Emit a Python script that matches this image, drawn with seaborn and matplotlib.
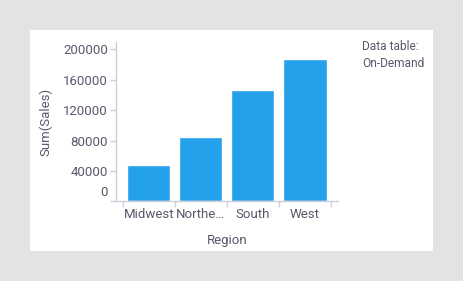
import matplotlib
matplotlib.use("Agg")
import matplotlib.pyplot as plt
import matplotlib.transforms as mtransforms
from matplotlib.patches import Rectangle
import seaborn as sns
import pandas as pd

regions = ["Midwest", "Northeast", "South", "West"]
region_labels = ["Midwest", "Northe…", "South", "West"]
sales = [47900, 84700, 146600, 187400]
y_ticks = [0, 40000, 80000, 120000, 160000, 200000]

sns.set_theme(style="white")
plt.rcParams['font.family'] = ['Roboto', 'DejaVu Sans']

W, H = 463, 281
fig = plt.figure(figsize=(W / 100, H / 100), dpi=100, facecolor="#e3e3e3")
fig.patches.append(Rectangle((30 / W, 1 - 251 / H), 403 / W, 221 / H,
                             transform=fig.transFigure, facecolor="white",
                             edgecolor="none", zorder=-10))

ax_left, ax_right = 115.7 / W, 337.7 / W
ax_top, ax_bottom = 1 - 42 / H, 1 - 201.4 / H
ax = fig.add_axes([ax_left, ax_bottom, ax_right - ax_left, ax_top - ax_bottom])
ax.set_facecolor("none")
ax.set_zorder(5)

df = pd.DataFrame({"Region": regions, "Sales": sales})
sns.barplot(data=df, x="Region", y="Sales", color="#25a0ea", saturation=1,
            width=0.83, ax=ax)

axis_col = "#cfcfdc"
text_col = "#58586c"
for s in ["top", "right"]:
    ax.spines[s].set_visible(False)
for s in ["left", "bottom"]:
    ax.spines[s].set_color(axis_col)
    ax.spines[s].set_linewidth(1)

ax.set_xlim(-0.635, 3.63)
ax.set_ylim(0, 209600)
ax.set_yticks(y_ticks)
ax.set_yticklabels([str(v) for v in y_ticks])
ax.tick_params(axis="y", length=4, width=1, color=axis_col, pad=1.5,
               labelsize=9.5, labelcolor=text_col, left=True)

n = len(regions)
ax.set_xticks([i - 0.5 for i in range(n + 1)])
ax.set_xticklabels([])
ax.set_xticks(list(range(n)), minor=True)
ax.set_xticklabels(region_labels, minor=True)
ax.tick_params(axis="x", which="major", length=4, width=1, color=axis_col,
               bottom=True)
ax.tick_params(axis="x", which="minor", length=0, pad=5, labelsize=9.5,
               labelcolor=text_col)

# shift the "0" label up like the reference
lbl0 = ax.get_yticklabels()[0]
lbl0.set_transform(lbl0.get_transform() +
                   mtransforms.ScaledTranslation(0, 0.10, fig.dpi_scale_trans))

ax.set_xlabel("Region", fontsize=9.5, color=text_col, labelpad=9)
ax.set_ylabel("Sum(Sales)", fontsize=9.5, color=text_col, labelpad=8)

fig.text(362 / W, 1 - 46 / H, "Data table:", fontsize=8.6, color=text_col,
         ha="left", va="center")
fig.text(362 / W, 1 - 63 / H, "On-Demand", fontsize=8.6, color=text_col,
         ha="left", va="center")

fig.savefig("out.png", dpi=100, facecolor=fig.get_facecolor())
